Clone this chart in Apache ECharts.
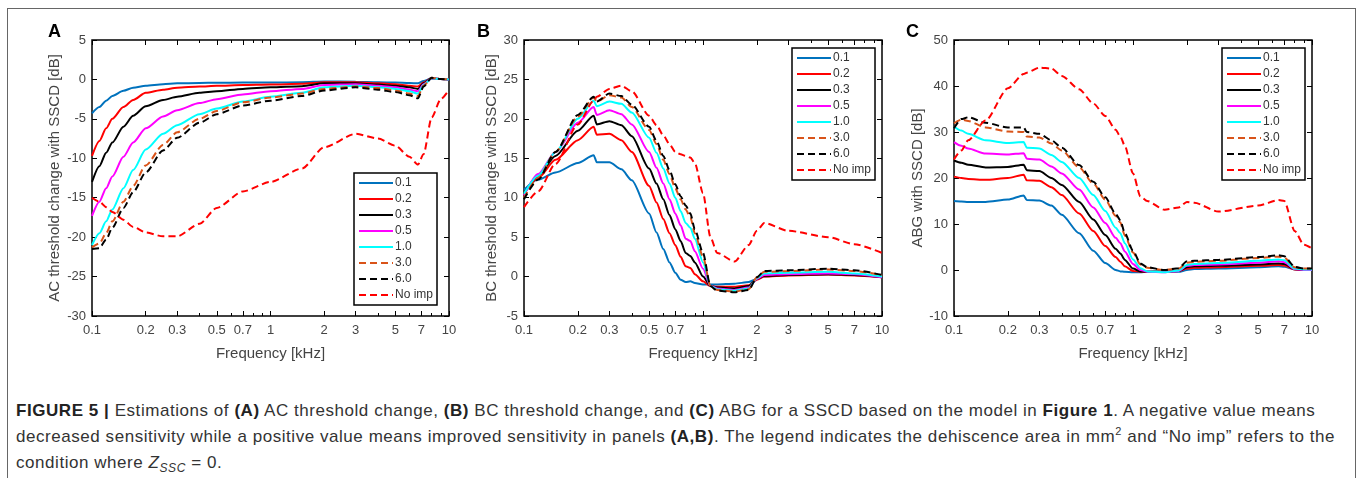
<!DOCTYPE html>
<html><head><meta charset="utf-8">
<script src="https://cdn.jsdelivr.net/npm/echarts@6/dist/echarts.min.js"></script>
<style>
html,body{margin:0;padding:0;background:#fff;}
#frame{position:absolute;left:7px;top:8px;width:1349px;height:480px;border:1.5px solid #666;border-bottom:none;box-sizing:border-box;}
#chart{position:absolute;left:0;top:0;width:1358px;height:390px;}
#caption{position:absolute;left:16px;top:398px;font:17px "Liberation Sans",Arial,sans-serif;letter-spacing:0.55px;line-height:26px;color:#333;white-space:nowrap;}
#caption b{color:#222;}
</style></head>
<body>
<div id="frame"></div>
<div id="chart"></div>
<div id="caption"><b>FIGURE 5 |</b> Estimations of <b>(A)</b> AC threshold change, <b>(B)</b> BC threshold change, and <b>(C)</b> ABG for a SSCD based on the model in <b>Figure 1</b>. A negative value means<br>decreased sensitivity while a positive value means improved sensitivity in panels <b>(A,B)</b>. The legend indicates the dehiscence area in mm<sup style="font-size:11px;line-height:0">2</sup> and “No imp” refers to the<br>condition where <i>Z</i><sub style="font-size:12px;line-height:0"><i>SSC</i></sub> = 0.</div>
<script>
// ---------- data ----------
var seriesNames = ['0.1', '0.2', '0.3', '0.5', '1.0', '3.0', '6.0', 'No imp'];
var majorTicks = [0.1, 0.2, 0.3, 0.5, 0.7, 1, 2, 3, 5, 7, 10];
var minorTicks = [0.4, 0.6, 0.8, 0.9, 4, 6, 8, 9];

// Panel A: AC threshold change with SSCD [dB]
var fA = [0.1, 0.11, 0.12, 0.13, 0.15, 0.17, 0.2, 0.25, 0.3, 0.4, 0.5, 0.7, 1, 1.5, 2, 3, 4, 5, 6, 6.7, 7.2, 8, 9, 10];
var a01 = [-4.3, -3.5, -2.7, -2.1, -1.45, -1.05, -0.8, -0.6, -0.5, -0.45, -0.42, -0.4, -0.4, -0.35, -0.25, -0.3, -0.35, -0.4, -0.45, -0.5, -0.2, 0.15, 0.05, 0];
var a02 = [-9.7, -7.8, -6.2, -5.0, -3.5, -2.6, -1.7, -1.3, -1.05, -0.9, -0.8, -0.72, -0.65, -0.55, -0.35, -0.35, -0.5, -0.6, -0.8, -0.9, -0.4, 0.15, 0.05, 0];
var a03 = [-13.0, -11.0, -9.3, -8.0, -6.0, -4.6, -3.4, -2.6, -2.2, -1.7, -1.5, -1.2, -1.0, -0.85, -0.5, -0.5, -0.65, -0.8, -1.0, -1.2, -0.5, 0.15, 0.05, 0];
var a05 = [-17.3, -15.5, -13.8, -12.3, -9.8, -8.0, -6.2, -4.7, -3.9, -3.0, -2.5, -1.9, -1.5, -1.2, -0.7, -0.6, -0.8, -1.0, -1.3, -1.5, -0.6, 0.15, 0.05, 0];
var a10 = [-21.0, -19.5, -18.0, -16.5, -13.8, -11.5, -8.9, -6.9, -5.8, -4.4, -3.7, -2.8, -2.2, -1.7, -1.0, -0.8, -1.0, -1.2, -1.5, -1.8, -0.7, 0.15, 0.05, 0];
var a30 = [-21.3, -20.8, -19.5, -18.0, -15.5, -13.5, -10.9, -8.3, -6.7, -5.0, -4.0, -2.9, -2.3, -1.8, -1.2, -0.9, -1.1, -1.4, -1.8, -2.1, -0.8, 0.2, 0.05, 0];
var a60 = [-21.5, -21.4, -20.3, -18.8, -16.3, -14.3, -11.8, -9.0, -7.4, -5.5, -4.4, -3.3, -2.7, -2.1, -1.4, -1.0, -1.3, -1.6, -2.0, -2.4, -0.9, 0.2, 0.05, 0];
var aNo = [-15.0, -15.5, -16.2, -16.8, -17.8, -18.7, -19.4, -19.9, -19.9, -18.3, -16.3, -14.2, -13.0, -11.3, -8.6, -6.9, -7.5, -8.4, -9.8, -10.8, -9.5, -4.8, -2.5, -1.3];

// Panel B: BC threshold change with SSCD [dB]
var fB = [0.1, 0.12, 0.15, 0.2, 0.245, 0.255, 0.3, 0.35, 0.4, 0.5, 0.55, 0.6, 0.65, 0.7, 0.75, 0.8, 0.85, 0.9, 1.0, 1.1, 1.2, 1.5, 1.8, 2.0, 2.2, 3, 5, 7, 10];
var b01 = [11.0, 12.3, 13.2, 14.4, 15.4, 14.5, 14.5, 13.6, 12.2, 8.0, 5.6, 3.5, 1.8, 0.5, -0.4, -0.7, -0.6, -0.8, -1.0, -1.0, -1.0, -0.9, -0.7, -0.3, 0.0, 0.2, 0.3, 0.2, 0.0];
var b02 = [10.5, 12.5, 14.8, 17.3, 19.0, 18.0, 18.1, 17.3, 15.8, 11.5, 9.4, 7.3, 5.5, 4.0, 2.5, 1.3, 1.1, 0.3, -0.6, -1.2, -1.3, -1.3, -1.1, -0.4, 0.0, 0.15, 0.25, 0.15, -0.1];
var b03 = [10.5, 12.8, 15.3, 18.5, 20.4, 19.3, 19.7, 19.2, 17.8, 13.7, 11.8, 9.8, 7.8, 6.0, 4.5, 3.0, 2.6, 1.8, 0.0, -1.2, -1.4, -1.5, -1.2, -0.3, 0.1, 0.2, 0.3, 0.2, -0.1];
var b05 = [10.3, 13.0, 15.8, 19.5, 21.5, 20.5, 21.1, 20.6, 19.3, 15.8, 13.8, 11.8, 9.8, 8.0, 6.5, 4.8, 4.5, 3.2, 1.0, -1.2, -1.5, -1.7, -1.4, -0.3, 0.2, 0.3, 0.4, 0.3, -0.1];
var b10 = [10.5, 12.8, 15.8, 20.0, 22.3, 21.6, 22.2, 21.9, 20.8, 17.6, 15.7, 13.7, 11.8, 10.0, 8.3, 6.8, 6.2, 4.8, 1.8, -1.2, -1.6, -1.8, -1.5, -0.2, 0.4, 0.5, 0.6, 0.4, 0.0];
var b30 = [10.0, 12.5, 15.8, 20.3, 22.7, 22.2, 23.0, 22.7, 21.5, 18.6, 16.8, 14.8, 13.0, 11.2, 9.8, 8.5, 7.5, 5.5, 2.5, -1.2, -1.7, -1.9, -1.6, -0.1, 0.6, 0.7, 0.9, 0.7, 0.2];
var b60 = [9.8, 12.3, 15.8, 20.5, 22.8, 22.2, 23.2, 22.9, 21.8, 19.0, 17.2, 15.3, 13.5, 11.7, 10.2, 9.0, 8.0, 6.0, 3.0, -1.2, -1.8, -2.0, -1.7, -0.1, 0.7, 0.8, 1.0, 0.8, 0.2];
var bNo = [8.8, 10.8, 14.3, 19.3, 22.3, 22.8, 23.8, 24.2, 23.5, 20.4, 19.2, 17.9, 16.8, 15.8, 15.5, 15.3, 15.1, 14.4, 10.6, 5.0, 3.0, 1.9, 4.0, 5.8, 6.8, 5.8, 5.0, 4.1, 3.0];

// Panel C: ABG with SSCD [dB]
var fC = [0.1, 0.11, 0.12, 0.15, 0.2, 0.245, 0.255, 0.3, 0.35, 0.4, 0.5, 0.6, 0.7, 0.8, 0.85, 0.9, 1.0, 1.1, 1.2, 1.5, 1.8, 2.0, 2.2, 3, 5, 6.5, 7, 8, 9, 10];
var c01 = [15.0, 14.9, 14.8, 14.8, 15.3, 16.2, 15.2, 15.1, 14.0, 12.0, 8.0, 4.2, 1.5, 0.0, -0.3, -0.4, -0.5, -0.5, -0.4, -0.3, -0.4, 0.0, 0.2, 0.3, 0.6, 0.8, 0.7, 0.1, 0.0, 0.0];
var c02 = [20.3, 20.0, 19.8, 19.6, 20.0, 20.7, 19.5, 19.4, 18.0, 16.3, 12.3, 8.5, 5.2, 2.8, 1.8, 0.8, -0.2, -0.4, -0.4, -0.4, -0.2, 0.3, 0.5, 0.6, 0.9, 1.1, 1.0, 0.1, 0.0, 0.0];
var c03 = [23.8, 23.3, 22.9, 22.3, 22.4, 22.9, 21.7, 21.5, 20.0, 18.5, 14.8, 11.0, 7.6, 4.6, 3.6, 2.2, 0.3, -0.3, -0.4, -0.4, -0.2, 0.6, 0.8, 0.9, 1.2, 1.4, 1.3, 0.2, 0.0, 0.0];
var c05 = [27.8, 27.0, 26.4, 25.3, 25.1, 25.4, 24.2, 24.0, 22.5, 21.0, 17.5, 13.6, 10.2, 7.0, 5.8, 4.0, 1.3, 0.0, -0.4, -0.5, -0.2, 0.9, 1.1, 1.2, 1.6, 1.9, 1.7, 0.2, 0.0, 0.0];
var c10 = [31.2, 30.3, 29.6, 28.2, 27.6, 27.8, 26.6, 26.4, 25.0, 23.5, 20.0, 16.3, 12.8, 9.2, 8.0, 5.8, 2.3, 0.4, -0.3, -0.5, -0.1, 1.1, 1.3, 1.5, 2.0, 2.3, 2.1, 0.3, 0.1, 0.1];
var c30 = [31.9, 32.7, 32.4, 31.0, 30.1, 30.0, 29.0, 28.8, 27.5, 26.0, 22.3, 18.8, 15.3, 11.8, 10.3, 7.5, 3.8, 1.2, 0.5, 0.0, 0.3, 1.6, 1.8, 2.0, 2.6, 2.9, 2.7, 0.6, 0.3, 0.3];
var c60 = [30.8, 32.8, 33.2, 32.0, 31.0, 31.0, 30.0, 29.6, 28.2, 26.6, 22.8, 19.2, 15.8, 12.2, 10.8, 8.0, 4.2, 1.4, 0.6, 0.0, 0.4, 1.9, 2.0, 2.2, 2.8, 3.2, 3.0, 0.7, 0.3, 0.3];
var cNo = [24.0, 26.0, 28.2, 32.5, 39.5, 42.6, 42.9, 44.0, 43.8, 42.2, 39.3, 36.2, 33.5, 30.5, 29.0, 27.0, 21.0, 16.0, 15.0, 13.1, 13.6, 14.8, 14.6, 12.7, 14.0, 15.2, 15.0, 8.5, 5.5, 4.7];

// ---------- styles / layout ----------
var colors = ['#0072BD', '#FF0000', '#000000', '#FF00FF', '#00FFFF', '#D95319', '#000000', '#FF0000'];
var dashed = [false, false, false, false, false, true, true, true];
var FONT = '"Liberation Sans", Arial, sans-serif';

var panels = [
  {f: fA, ys: [a01, a02, a03, a05, a10, a30, a60, aNo], left: 92, width: 357, min: -30, max: 5, interval: 5,
   name: 'AC threshold change with SSCD [dB]', nameGap: 30, letter: 'A', lx: 48, legendLeft: 354, legendTop: 173},
  {f: fB, ys: [b01, b02, b03, b05, b10, b30, b60, bNo], left: 524, width: 358, min: -5, max: 30, interval: 5,
   name: 'BC threshold change with SSCD [dB]', nameGap: 24, letter: 'B', lx: 477, legendLeft: 792, legendTop: 48},
  {f: fC, ys: [c01, c02, c03, c05, c10, c30, c60, cNo], left: 954, width: 358, min: -10, max: 50, interval: 10,
   name: 'ABG with SSCD [dB]', nameGap: 29, letter: 'C', lx: 906, legendLeft: 1222, legendTop: 48}
];

var majorLog = majorTicks.map(function (v) { return Math.log10(v); });
var minorLog = minorTicks.map(function (v) { return Math.log10(v); });
function freqLabel(v) { return String(Number(Math.pow(10, v).toPrecision(2))); }

var grids = [], xAxes = [], yAxes = [], series = [], legends = [], graphics = [];
panels.forEach(function (p, gi) {
  grids.push({left: p.left, top: 40, width: p.width, height: 276, show: true,
    borderColor: '#000', borderWidth: 1.5, backgroundColor: 'rgba(0,0,0,0)', containLabel: false});
  function xa(pos, ticks, len, label) {
    var ax = {gridIndex: gi, type: 'value', min: -1, max: 1, position: pos,
      axisLine: {show: false, onZero: false}, splitLine: {show: false},
      axisTick: {show: true, inside: true, length: len, customValues: ticks, lineStyle: {color: '#000', width: 1}},
      axisLabel: {show: false}};
    if (label) {
      ax.axisLabel = {show: true, customValues: majorLog, formatter: freqLabel, color: '#444',
        fontSize: 13, fontFamily: FONT, margin: 8};
      ax.name = 'Frequency [kHz]';
      ax.nameLocation = 'middle';
      ax.nameGap = 30;
      ax.nameTextStyle = {color: '#444', fontSize: 15, fontFamily: FONT};
    }
    return ax;
  }
  xAxes.push(xa('bottom', majorLog, 5, true));
  xAxes.push(xa('bottom', minorLog, 3, false));
  xAxes.push(xa('top', majorLog, 5, false));
  xAxes.push(xa('top', minorLog, 3, false));
  yAxes.push({gridIndex: gi, type: 'value', min: p.min, max: p.max, interval: p.interval, position: 'left',
    axisLine: {show: false, onZero: false}, splitLine: {show: false},
    axisTick: {inside: true, length: 5, lineStyle: {color: '#000', width: 1}},
    axisLabel: {color: '#444', fontSize: 13, fontFamily: FONT, margin: 6},
    name: p.name, nameLocation: 'middle', nameGap: p.nameGap,
    nameTextStyle: {color: '#444', fontSize: 15, fontFamily: FONT}});
  yAxes.push({gridIndex: gi, type: 'value', min: p.min, max: p.max, interval: p.interval, position: 'right',
    axisLine: {show: false, onZero: false}, splitLine: {show: false},
    axisTick: {inside: true, length: 5, lineStyle: {color: '#000', width: 1}},
    axisLabel: {show: false}});
  p.ys.forEach(function (vals, si) {
    series.push({
      name: seriesNames[si], type: 'line', xAxisIndex: gi * 4, yAxisIndex: gi * 2,
      data: p.f.map(function (fv, k) { return [Math.log10(fv), vals[k]]; }),
      symbol: 'none', showSymbol: false, smooth: 0.25, smoothMonotone: 'x',
      lineStyle: {color: colors[si], width: 2, type: dashed[si] ? [7, 4] : 'solid'},
      itemStyle: {color: colors[si]}
    });
  });
  legends.push({data: seriesNames, orient: 'vertical', left: p.legendLeft, top: p.legendTop,
    itemWidth: 34, itemHeight: 10, itemGap: 4, padding: [4, 4, 4, 4],
    backgroundColor: '#fff', borderColor: '#000', borderWidth: 1.5, borderRadius: 0,
    selectedMode: false,
    itemStyle: {color: 'rgba(0,0,0,0)', borderWidth: 0, opacity: 0},
    textStyle: {color: '#333', fontSize: 12, fontFamily: FONT, padding: [0, 0, 0, -3]}});
  graphics.push({type: 'text', left: p.lx, top: 23,
    style: {text: p.letter, font: 'bold 18px ' + FONT, fill: '#000'}});
});

var chart = echarts.init(document.getElementById('chart'), null, {renderer: 'canvas'});
chart.setOption({
  animation: false,
  backgroundColor: 'rgba(0,0,0,0)',
  grid: grids, xAxis: xAxes, yAxis: yAxes, series: series, legend: legends, graphic: graphics
});
</script>
</body></html>
